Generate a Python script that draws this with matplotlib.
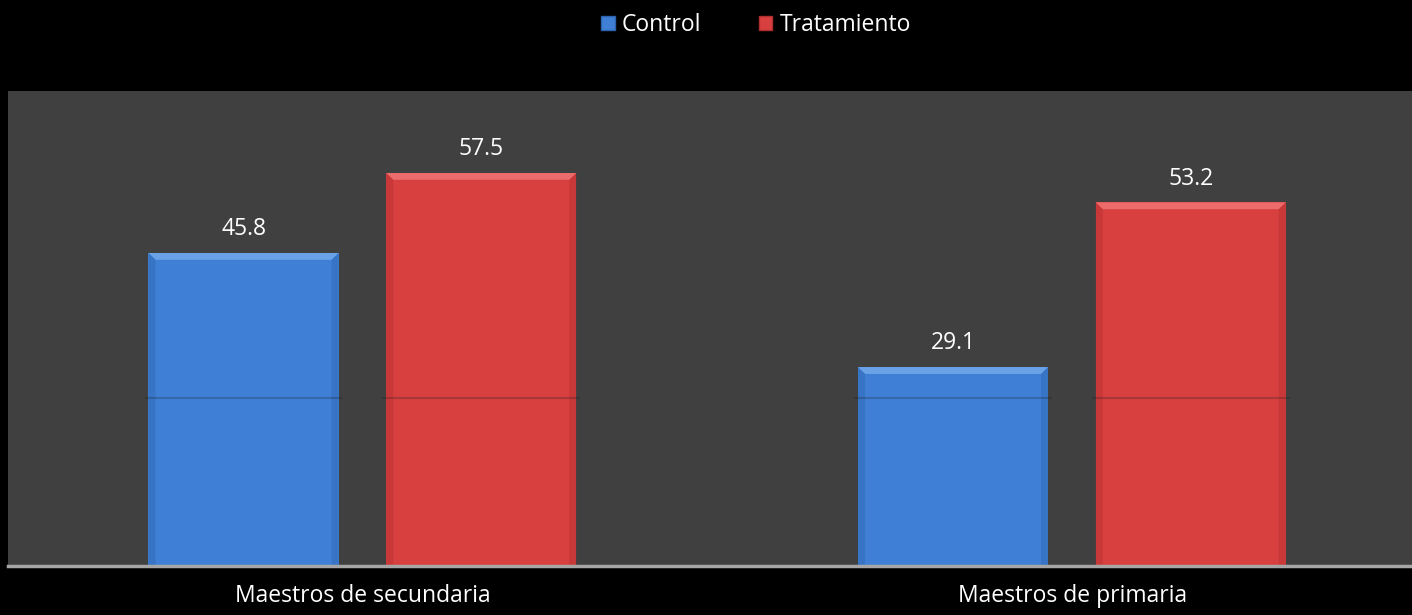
import numpy as np
import matplotlib.pyplot as plt
from matplotlib.patches import Polygon, Patch

plt.rcParams['font.family'] = ['Open Sans', 'DejaVu Sans']

categories = ["Maestros de secundaria", "Maestros de primaria"]
series_names = ["Control", "Tratamiento"]
control = [45.8, 29.1]
tratamiento = [57.5, 53.2]

face = {"Control": "#3f80d6", "Tratamiento": "#d83f3f"}
light = {"Control": "#6aa2e8", "Tratamiento": "#ec6b6b"}
dark = {"Control": "#2d63ad", "Tratamiento": "#b02e2e"}

W, H = 1412, 615
fig = plt.figure(figsize=(W / 100, H / 100), dpi=100, facecolor="black")
# plot area runs a little past the right edge of the figure
ax = fig.add_axes([8 / W, 1 - 566 / H, 1419 / W, 475 / H])
ax.set_facecolor("#404040")
ax.set_xlim(-0.5, 1.5)
ax.set_ylim(0, 69.5)

x = np.arange(len(categories))
width = 0.268
offsets = [-0.168, 0.167]


def bevel_bar(cx, h, name):
    bars = ax.bar(cx, h, width, color=face[name], edgecolor="none", zorder=2)
    # bevelled top edge and darker sides
    x0, x1 = cx - width / 2, cx + width / 2
    dx = 0.01
    dy = 1.0
    ax.add_patch(Polygon([[x0, h], [x1, h], [x1 - dx, h - dy], [x0 + dx, h - dy]],
                         closed=True, facecolor=light[name], edgecolor="none", zorder=3))
    ax.add_patch(Polygon([[x0, 0], [x0, h], [x0 + dx, h - dy], [x0 + dx, 0]],
                         closed=True, facecolor=dark[name], edgecolor="none", alpha=0.4, zorder=3))
    ax.add_patch(Polygon([[x1, 0], [x1, h], [x1 - dx, h - dy], [x1 - dx, 0]],
                         closed=True, facecolor=dark[name], edgecolor="none", alpha=0.4, zorder=3))
    # faint seam across the bar
    ax.plot([x0 - 0.004, x1 + 0.004], [24.6, 24.6], color="#202020", lw=1.5, alpha=0.25, zorder=4)
    ax.text(cx, h + 1.7, f"{h:.1f}", ha="center", va="bottom", color="white", fontsize=16.5)
    return bars


for i in range(len(categories)):
    bevel_bar(x[i] + offsets[0], control[i], "Control")
    bevel_bar(x[i] + offsets[1], tratamiento[i], "Tratamiento")

ax.axhline(0, color="#a6a6a6", lw=2.5, zorder=5, clip_on=False)

for s in ax.spines.values():
    s.set_visible(False)
ax.set_yticks([])
ax.set_xticks(x)
ax.set_xticklabels(categories, color="white", fontsize=16.5)
ax.tick_params(axis="x", length=0, pad=13)

handles = [Patch(facecolor=face[n], edgecolor=dark[n], label=n) for n in series_names]
fig.legend(handles=handles, loc="upper center", bbox_to_anchor=(756 / W, 1.012), ncol=2,
           frameon=False, fontsize=16.5, labelcolor="white", handlelength=0.6,
           handleheight=0.6, handletextpad=0.3, columnspacing=2.5)

fig.savefig("out.png", dpi=100, facecolor="black")
